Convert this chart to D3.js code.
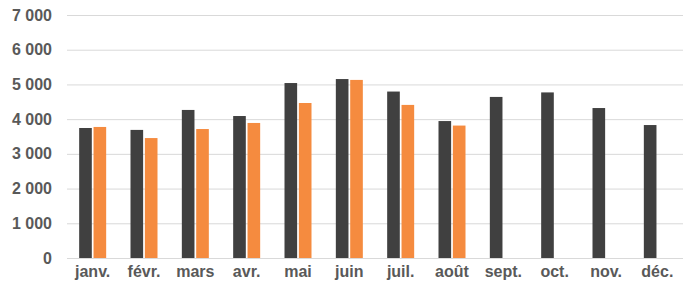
<!DOCTYPE html>
<html>
<head>
<meta charset="utf-8">
<script src="https://cdn.jsdelivr.net/npm/d3@7"></script>
<style>
  body { margin: 0; background: #fff; }
  .axis text { font-family: "Liberation Sans", Arial, sans-serif; font-weight: bold; fill: #595959; }
</style>
</head>
<body>
<div id="chart"></div>
<script>
const months = ['janv.', 'févr.', 'mars', 'avr.', 'mai', 'juin', 'juil.', 'août', 'sept.', 'oct.', 'nov.', 'déc.'];
const seriesA = [3745, 3690, 4265, 4090, 5040, 5155, 4795, 3945, 4640, 4770, 4320, 3830];
const seriesB = [3775, 3455, 3715, 3890, 4465, 5130, 4410, 3815, null, null, null, null];
const yTicks = [0, 1000, 2000, 3000, 4000, 5000, 6000, 7000];

const colours = { a: '#404040', b: '#f58b3f' };

const width = 700, height = 296;
const margin = { top: 15, right: 17, bottom: 38, left: 67 };
const w = width - margin.left - margin.right;
const h = height - margin.top - margin.bottom;

const svg = d3.select('#chart').append('svg')
  .attr('width', width).attr('height', height);

const g = svg.append('g').attr('transform', `translate(${margin.left},${margin.top})`);

const x = d3.scaleBand().domain(months).range([0, w]).padding(0);
const groupW = 27;
const x1 = d3.scaleBand().domain(['a', 'b']).range([0, groupW]).paddingInner(0.12);
const y = d3.scaleLinear().domain([0, 7000]).range([h, 0]);

const fmt = d => d3.format(',')(d).replace(/,/g, ' ');

// gridlines
g.append('g').selectAll('line').data(yTicks).join('line')
  .attr('x1', 0).attr('x2', w)
  .attr('y1', d => y(d) + 0.5).attr('y2', d => y(d) + 0.5)
  .attr('stroke', '#d9d9d9').attr('stroke-width', 1);

const yAxis = g.append('g').attr('class', 'axis')
  .call(d3.axisLeft(y).tickValues(yTicks).tickFormat(fmt).tickSize(0).tickPadding(15));
yAxis.select('.domain').remove();
yAxis.selectAll('text').style('font-size', '16px');

const xAxis = g.append('g').attr('class', 'axis')
  .attr('transform', `translate(0,${h})`)
  .call(d3.axisBottom(x).tickSize(0).tickPadding(8));
xAxis.select('.domain').remove();
xAxis.selectAll('text').style('font-size', '16px');

const rows = months.map((m, i) => ({ m, a: seriesA[i], b: seriesB[i] }));

const grp = g.selectAll('.grp').data(rows).join('g')
  .attr('class', 'grp')
  .attr('transform', d => `translate(${x(d.m) + (x.bandwidth() - groupW) / 2},0)`);

grp.selectAll('rect')
  .data(d => ['a', 'b'].filter(k => d[k] != null).map(k => ({ k, v: d[k] })))
  .join('rect')
  .attr('x', d => x1(d.k))
  .attr('width', x1.bandwidth())
  .attr('y', d => y(d.v))
  .attr('height', d => h - y(d.v))
  .attr('fill', d => colours[d.k]);
</script>
</body>
</html>
